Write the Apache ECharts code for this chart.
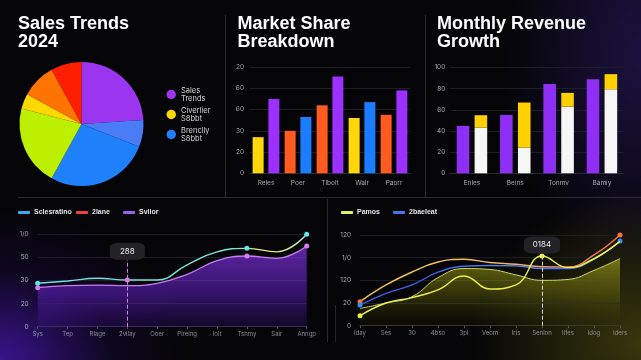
<!DOCTYPE html>
<html><head><meta charset="utf-8">
<script src="https://cdn.jsdelivr.net/npm/echarts@6/dist/echarts.min.js"></script>
<style>
html,body{margin:0;padding:0;width:641px;height:360px;overflow:hidden;}
body{background:
 radial-gradient(ellipse 190px 150px at 0% 100%, rgba(75,25,185,0.75), rgba(40,10,100,0.25) 60%, transparent 100%),
 radial-gradient(ellipse 170px 150px at 100% 95%, rgba(120,115,20,0.45), transparent 100%),
 radial-gradient(ellipse 140px 220px at 100% 15%, rgba(50,30,120,0.5), transparent 100%),
 #050507;}
#c{width:641px;height:360px;}
</style></head><body><div id="c"></div>
<script>
// ---- data ----
const titles = ['Sales Trends\n2024', 'Market Share\nBreakdown', 'Monthly Revenue\nGrowth'];

const pieNames = ['Sales\nTrends', 'Slice B', 'Brenclly\nS8bbt', 'Slice D', 'Civerlier\nS8bbt', 'Slice F', 'Slice G'];
const pieValues = [24, 7, 27, 21, 4, 9, 8];
const pieLegend = ['Sales\nTrends', 'Civerlier\nS8bbt', 'Brenclly\nS8bbt'];

const marketCats = ['Reles', 'Poer', 'Tlbolt', 'Walr', 'Paorr'];
const marketA = [34, 40, 64, 52, 55];
const marketB = [70, 53, 91, 67, 78];
const marketTicks = ['0', '20', '30', '60', '60', '20'];

const monthCats = ['Enles', 'Beins', 'Tonmv', 'Bamiy'];
const monthPurple = [44.8, 55.2, 84.5, 89];
const monthWhite = [43.2, 24.3, 63, 79.5];
const monthYellow = [11.7, 42.6, 13, 14.2];
const monthTicks = ['0', '20', '40', '60', '80', '100'];

const leftCats = ['Sys', 'Tep', 'Rlage', '2vllay', 'Ooer', 'Pireing', 'Iolt', 'Tshmy', 'Sair', 'Anngp'];
const leftNames = ['Sclesratino', '2lane', 'Svilor'];
const leftCyan = [47, 49.5, 52.4, 50.5, 50.5, 67, 81, 84.8, 81, 100];
const leftPurple = [42.2, 44.4, 45.1, 44.4, 47, 56.7, 71.4, 76.5, 74, 87.3];
const leftTicks = ['0', '20', '30', '50', '1/0'];
const leftTip = {index: 3, value: 81.6, text: '288', lineTop: 72};

const rightCats = ['Iday', 'Ses', '30', '4bso', '3pl', 'Veom', 'Iris', 'Senlon', 'Ilfes', 'Idog', 'Iders'];
const rightNames = ['Pamos', '2baeleat'];
const rightGold = [26.5, 44.9, 59.2, 70.2, 73.2, 69.7, 67.7, 65, 64.7, 78, 100];
const rightBlue = [22.8, 35.7, 44.9, 59, 65.5, 66.4, 66, 63, 63, 73.5, 93.4];
const rightYellow = [11, 25, 31, 39.4, 54.8, 40.5, 44.9, 76.8, 64, 74, 93];
const rightArea = [19, 25, 32, 53, 63, 62, 56, 50, 51, 61, 74];
const rightTicks = ['0', '20', '120', '1/0', '120'];
const rightTip = {index: 7, value: 89, text: '0184', lineTop: 77};

// ---- styles ----
const pieColors = ['#9b35f0', '#4a7cf5', '#1e80fb', '#bdf000', '#ffd800', '#ff7400', '#ff1e00'];
const marketColorsA = ['#ffd60a', '#ff5a1f', '#ff5a1f', '#ffd60a', '#ff5a1f'];
const marketColorsB = ['#9b30ff', '#1a7cff', '#9b30ff', '#1a7cff', '#9b30ff'];
const leftLegendColors = ['#3fa6ee', '#ee4242', '#9d5ff2'];
const leftLegendX = [18, 76, 123];
const rightLegendColors = ['#e2f060', '#4a72ea'];
const rightLegendX = [341, 393];
const FONT = 'Inter, "Liberation Sans", sans-serif';
const axisLbl = {color: '#a8a8b0', fontSize: 6.5, fontFamily: FONT};
const split = {show: true, lineStyle: {color: '#1d1d25', width: 1}};
const G = (stops, x2 = 1, y2 = 0) => new echarts.graphic.LinearGradient(0, 0, x2, y2, stops.map(s => ({offset: s[0], color: s[1]})));

const chart = echarts.init(document.getElementById('c'), null, {renderer: 'canvas'});

const titleStyle = {color: '#ffffff', fontSize: 18, fontWeight: 'bold', fontFamily: '"Liberation Sans", Arial, sans-serif', lineHeight: 18};
const lineLegend = (name, color, x) => ({
  data: [{name: name, itemStyle: {color: color}}],
  left: x, top: 209, padding: 0, icon: 'roundRect', itemWidth: 12, itemHeight: 3, itemGap: 4,
  textStyle: {color: '#e4e4ea', fontSize: 7, fontWeight: 'bold', fontFamily: '"Liberation Sans", sans-serif', padding: [0, 0, 0, -1]},
  selectedMode: false
});

const option = {
  backgroundColor: 'transparent',
  animation: false,
  title: [
    {text: titles[0], left: 18, top: 15.5, padding: 0, textStyle: titleStyle},
    {text: titles[1], left: 237.5, top: 15.5, padding: 0, textStyle: titleStyle},
    {text: titles[2], left: 437, top: 15.5, padding: 0, textStyle: titleStyle}
  ],
  legend: [
    {
      data: pieLegend, orient: 'vertical', left: 166.5, top: 86.5, padding: 0, icon: 'circle',
      itemWidth: 9.5, itemHeight: 9.5, itemGap: 4,
      textStyle: {color: '#d6d6dc', fontSize: 7.5, lineHeight: 8, fontFamily: FONT, padding: [0, 0, 0, 0]},
      selectedMode: false
    }
  ].concat(leftNames.map((n, i) => lineLegend(n, leftLegendColors[i], leftLegendX[i])))
   .concat(rightNames.map((n, i) => lineLegend(n, rightLegendColors[i], rightLegendX[i]))),
  grid: [
    {left: 250, top: 67, width: 160, height: 106.3, outerBoundsMode: 'none'},
    {left: 450.3, top: 67.5, width: 173.3, height: 105.8, outerBoundsMode: 'none'},
    {left: 37.7, top: 234.3, width: 269, height: 92.4, outerBoundsMode: 'none'},
    {left: 360, top: 235, width: 260, height: 90.7, outerBoundsMode: 'none'}
  ],
  xAxis: [
    {type: 'category', gridIndex: 0, data: marketCats, axisTick: {show: false},
     axisLine: {show: true, lineStyle: {color: '#2a2a32'}}, axisLabel: Object.assign({margin: 6}, axisLbl)},
    {type: 'category', gridIndex: 1, data: monthCats, axisTick: {show: false},
     axisLine: {show: true, lineStyle: {color: '#2a2a32'}}, axisLabel: Object.assign({margin: 6}, axisLbl)},
    {type: 'category', gridIndex: 2, data: leftCats, boundaryGap: false,
     axisTick: {show: true, length: 2.5, alignWithLabel: true, lineStyle: {color: '#55506a'}},
     axisLine: {show: true, lineStyle: {color: '#3a3352'}}, axisLabel: Object.assign({margin: 5}, axisLbl, {fontSize: 6, color: '#8e8a9c'})},
    {type: 'category', gridIndex: 3, data: rightCats, boundaryGap: false,
     axisTick: {show: true, length: 2.5, alignWithLabel: true, lineStyle: {color: '#55554a'}},
     axisLine: {show: true, lineStyle: {color: '#3a3a36'}}, axisLabel: Object.assign({margin: 5}, axisLbl, {fontSize: 6, color: '#8e8e90'})}
  ],
  yAxis: [
    {type: 'value', gridIndex: 0, min: 0, max: 100, interval: 20, splitLine: split,
     axisLabel: Object.assign({margin: 6, formatter: v => marketTicks[Math.round(v / 20)]}, axisLbl)},
    {type: 'value', gridIndex: 1, min: 0, max: 100, interval: 20, splitLine: split,
     axisLabel: Object.assign({margin: 5, formatter: v => monthTicks[Math.round(v / 20)]}, axisLbl)},
    {type: 'value', gridIndex: 2, min: 0, max: 100, interval: 25, splitLine: split,
     axisLabel: Object.assign({margin: 9, formatter: v => leftTicks[Math.round(v / 25)]}, axisLbl)},
    {type: 'value', gridIndex: 3, min: 0, max: 100, interval: 25, splitLine: split,
     axisLabel: Object.assign({margin: 9, formatter: v => rightTicks[Math.round(v / 25)]}, axisLbl)}
  ],
  graphic: [
    {type: 'line', shape: {x1: 225.5, y1: 15, x2: 225.5, y2: 197}, style: {stroke: '#2a2a32', lineWidth: 1}, silent: true},
    {type: 'line', shape: {x1: 425.5, y1: 15, x2: 425.5, y2: 197}, style: {stroke: '#2a2a32', lineWidth: 1}, silent: true},
    {type: 'line', shape: {x1: 18, y1: 197.5, x2: 641, y2: 197.5}, style: {stroke: '#2a2a32', lineWidth: 1}, silent: true},
    {type: 'line', shape: {x1: 327.5, y1: 199, x2: 327.5, y2: 342}, style: {stroke: '#2a2a32', lineWidth: 1}, silent: true},
    {type: 'line', shape: {x1: 335.5, y1: 305, x2: 335.5, y2: 342}, style: {stroke: '#222228', lineWidth: 1}, silent: true}
  ],
  series: [
    {
      type: 'pie', center: [81.5, 124], radius: 62, startAngle: 90, clockwise: true,
      label: {show: false}, labelLine: {show: false}, silent: true,
      data: pieNames.map((n, i) => ({name: n, value: pieValues[i], itemStyle: {color: pieColors[i]}}))
    },
    {
      type: 'bar', xAxisIndex: 0, yAxisIndex: 0, data: marketA, barWidth: 11, barGap: '43%',
      itemStyle: {color: p => marketColorsA[p.dataIndex]}
    },
    {
      type: 'bar', xAxisIndex: 0, yAxisIndex: 0, data: marketB, barWidth: 11, barGap: '43%',
      itemStyle: {color: p => marketColorsB[p.dataIndex]}
    },
    {
      type: 'bar', xAxisIndex: 1, yAxisIndex: 1, data: monthPurple, barWidth: 12.6, barGap: '42%',
      itemStyle: {color: '#8f2ef5'}
    },
    {
      type: 'bar', xAxisIndex: 1, yAxisIndex: 1, data: monthWhite, stack: 'm', barWidth: 12.6, barGap: '42%',
      itemStyle: {color: '#f6f6f6'}
    },
    {
      type: 'bar', xAxisIndex: 1, yAxisIndex: 1, data: monthYellow, stack: 'm', barWidth: 12.6, barGap: '42%',
      itemStyle: {color: '#ffd000'}
    },
    // bottom-left
    {
      name: leftNames[2], type: 'line', xAxisIndex: 2, yAxisIndex: 2, smooth: 0.45, data: leftPurple,
      showSymbol: true, symbol: 'circle', symbolSize: (v, p) => [0, 7, 9].includes(p.dataIndex) ? 5 : 0,
      itemStyle: {color: '#d67ef0'},
      lineStyle: {color: '#c77cf0', width: 1.3},
      areaStyle: {color: G([[0, 'rgba(140,55,245,0.95)'], [0.6, 'rgba(105,35,210,0.7)'], [1, 'rgba(60,20,140,0.35)']], 0, 1)},
      z: 2
    },
    {
      name: leftNames[1], type: 'line', xAxisIndex: 2, yAxisIndex: 2, data: [],
      itemStyle: {color: '#ee4242'}
    },
    {
      name: leftNames[0], type: 'line', xAxisIndex: 2, yAxisIndex: 2, smooth: 0.45,
      data: leftCyan.map((v, i) => i === leftTip.index ? {value: v, itemStyle: {color: '#e07ce6'}} : v),
      showSymbol: true, symbol: 'circle', symbolSize: (v, p) => [0, 3, 7, 9].includes(p.dataIndex) ? 5 : 0,
      itemStyle: {color: '#66e4e6'},
      lineStyle: {width: 1.4, color: G([[0, '#6fe0e6'], [0.74, '#80e8d8'], [0.8, '#e6e67c'], [0.94, '#dcee86'], [1, '#80ecec']])},
      markLine: {
        silent: true, symbol: ['none', 'none'], label: {show: false},
        lineStyle: {type: 'dashed', color: '#d07ee8', width: 1},
        data: [[{coord: [leftCats[leftTip.index], 0]}, {coord: [leftCats[leftTip.index], leftTip.lineTop]}]]
      },
      markPoint: {
        silent: true, symbol: 'roundRect', symbolSize: [35, 17],
        itemStyle: {color: '#232327'},
        label: {show: true, color: '#e8e8ea', fontSize: 8, fontFamily: FONT, formatter: () => leftTip.text},
        data: [{coord: [leftCats[leftTip.index], leftTip.value]}]
      },
      z: 3
    },
    // bottom-right
    {
      name: 'area', type: 'line', xAxisIndex: 3, yAxisIndex: 3, smooth: 0.45, data: rightArea,
      showSymbol: false, lineStyle: {color: '#c9d86a', width: 1},
      areaStyle: {color: G([[0, 'rgba(185,185,25,0.8)'], [0.5, 'rgba(120,120,15,0.6)'], [1, 'rgba(40,40,5,0.25)']], 0, 1)},
      z: 1
    },
    {
      name: 'gold', type: 'line', xAxisIndex: 3, yAxisIndex: 3, smooth: 0.45, data: rightGold,
      showSymbol: true, symbol: 'circle', symbolSize: (v, p) => [0, 10].includes(p.dataIndex) ? 5 : 0,
      itemStyle: {color: '#ff6e3c'},
      lineStyle: {width: 1.4, color: G([[0, '#f5c44a'], [0.45, '#f3c060'], [0.7, '#eea080'], [1, '#ff6a3a']])},
      z: 3
    },
    {
      name: rightNames[1], type: 'line', xAxisIndex: 3, yAxisIndex: 3, smooth: 0.45, data: rightBlue,
      showSymbol: true, symbol: 'circle', symbolSize: (v, p) => [0, 10].includes(p.dataIndex) ? 5 : 0,
      itemStyle: {color: '#2f8ef8'},
      lineStyle: {width: 1.4, color: G([[0, '#3a5ee2'], [0.35, '#3f66ea'], [0.6, '#5a8ae0'], [0.8, '#4c6cec'], [0.9, '#90dc80'], [1, '#7ed8a0']])},
      z: 3
    },
    {
      name: rightNames[0], type: 'line', xAxisIndex: 3, yAxisIndex: 3, smooth: 0.45, data: rightYellow,
      showSymbol: true, symbol: 'circle', symbolSize: (v, p) => [0, 7].includes(p.dataIndex) ? 5 : 0,
      itemStyle: {color: '#eef050'},
      lineStyle: {width: 1.4, color: '#eef04e'},
      markLine: {
        silent: true, symbol: ['none', 'none'], label: {show: false},
        lineStyle: {type: 'dashed', color: '#d8d8d0', width: 1},
        data: [[{coord: [rightCats[rightTip.index], 0]}, {coord: [rightCats[rightTip.index], rightTip.lineTop]}]]
      },
      markPoint: {
        silent: true, symbol: 'roundRect', symbolSize: [36, 17],
        itemStyle: {color: '#232327'},
        label: {show: true, color: '#e8e8ea', fontSize: 8, fontFamily: FONT, formatter: () => rightTip.text},
        data: [{coord: [rightCats[rightTip.index], rightTip.value]}]
      },
      z: 4
    }
  ]
};
chart.setOption(option);
</script>
</body></html>
